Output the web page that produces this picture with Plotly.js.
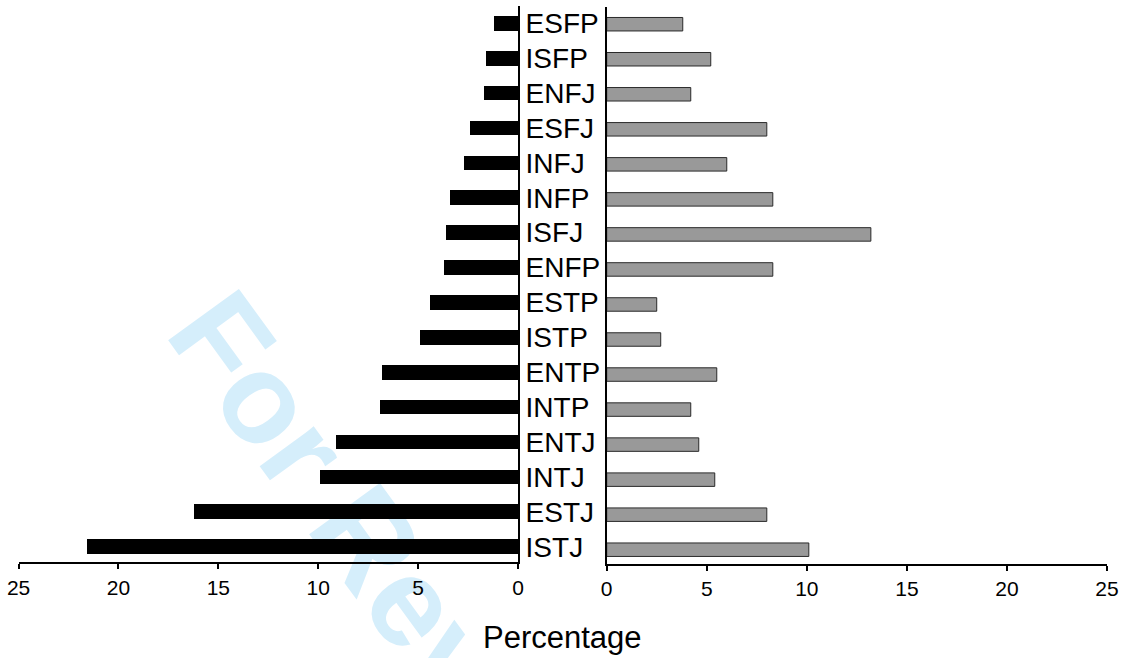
<!DOCTYPE html>
<html>
<head>
<meta charset="utf-8">
<script src="https://cdn.plot.ly/plotly-3.0.1.min.js"></script>
<style>
  html, body { margin: 0; padding: 0; background: #ffffff; }
  #chart { width: 1135px; height: 658px; }
</style>
</head>
<body>
<div id="chart"></div>
<script>
// MBTI types, listed from the top row to the bottom row
const types = ["ESFP","ISFP","ENFJ","ESFJ","INFJ","INFP","ISFJ","ENFP",
               "ESTP","ISTP","ENTP","INTP","ENTJ","INTJ","ESTJ","ISTJ"];

// Percentage per type, left panel (black bars)
const leftValues  = [1.2, 1.6, 1.7, 2.4, 2.7, 3.4, 3.6, 3.7,
                     4.4, 4.9, 6.8, 6.9, 9.1, 9.9, 16.2, 21.6];

// Percentage per type, right panel (grey bars)
const rightValues = [3.8, 5.2, 4.2, 8.0, 6.0, 8.3, 13.2, 8.3,
                     2.5, 2.7, 5.5, 4.2, 4.6, 5.4, 8.0, 10.1];

const tickValues = [0, 5, 10, 15, 20, 25];
const axisTitle = "Percentage";
const watermarkText = "For Review Only";

const W = 1135, H = 658;
const px = v => v / W;          // horizontal pixel -> paper fraction
const py = v => 1 - v / H;      // vertical pixel (from top) -> paper fraction

const FONT = "Liberation Sans, Arial, Helvetica, sans-serif";

// bottom-to-top category order so ISTJ sits on the bottom row
const catOrder = types.slice().reverse();

const traces = [
  {
    type: "bar", orientation: "h",
    x: leftValues, y: types,
    xaxis: "x", yaxis: "y",
    width: 0.42,
    marker: { color: "#000000", line: { width: 0 } },
    hoverinfo: "x+y"
  },
  {
    type: "bar", orientation: "h",
    x: rightValues, y: types,
    xaxis: "x2", yaxis: "y2",
    width: 0.385,
    marker: { color: "#999999", line: { color: "#2a2a2a", width: 1 } },
    hoverinfo: "x+y"
  }
];

const xCommon = {
  tickmode: "array",
  tickvals: tickValues,
  ticktext: tickValues.map(String),
  ticks: "outside", ticklen: 5, tickwidth: 2, tickcolor: "#000",
  showline: true, linewidth: 2, linecolor: "#000",
  showgrid: false, zeroline: false,
  tickfont: { family: FONT, size: 21, color: "#000" },
  ticklabelstandoff: 0,
  fixedrange: true
};

const layout = {
  width: W, height: H,
  margin: { l: 0, r: 0, t: 0, b: 0, pad: 0 },
  paper_bgcolor: "#ffffff",
  plot_bgcolor: "rgba(0,0,0,0)",
  showlegend: false,
  bargap: 0,
  xaxis: Object.assign({}, xCommon, {
    domain: [px(18.6), px(518)],
    range: [25, 0],
    anchor: "y"
  }),
  yaxis: {
    domain: [py(562.3), py(6)],
    type: "category",
    categoryorder: "array", categoryarray: catOrder,
    range: [-0.447, 15.496],
    side: "right",
    anchor: "x",
    showline: true, linewidth: 2, linecolor: "#000",
    ticks: "", showgrid: false, zeroline: false,
    tickfont: { family: FONT, size: 28, color: "#000" },
    ticklabelstandoff: 0,
    fixedrange: true
  },
  xaxis2: Object.assign({}, xCommon, {
    domain: [px(606.7), px(1107)],
    range: [0, 25],
    anchor: "y2"
  }),
  yaxis2: {
    domain: [py(564), py(6.7)],
    type: "category",
    categoryorder: "array", categoryarray: catOrder,
    range: [-0.408, 15.5],
    anchor: "x2",
    showline: true, linewidth: 2, linecolor: "#000",
    ticks: "", showticklabels: false,
    showgrid: false, zeroline: false,
    fixedrange: true
  },
  annotations: [
    {
      text: axisTitle,
      xref: "paper", yref: "paper",
      x: px(562), y: py(637),
      xanchor: "center", yanchor: "middle",
      showarrow: false,
      font: { family: FONT, size: 31, color: "#000" }
    }
  ],
  shapes: [
    {
      // diagonal watermark, kept underneath the bars
      type: "rect", layer: "below",
      xref: "paper", yref: "paper",
      x0: px(500), x1: px(502), y0: py(704), y1: py(702),
      line: { width: 0 }, fillcolor: "rgba(0,0,0,0)",
      label: {
        text: watermarkText,
        textangle: 54,
        textposition: "middle center",
        font: { family: FONT, size: 127, color: "#d5eefb", weight: "bold" }
      }
    }
  ]
};

Plotly.newPlot("chart", traces, layout, { staticPlot: true, displayModeBar: false });
</script>
</body>
</html>
